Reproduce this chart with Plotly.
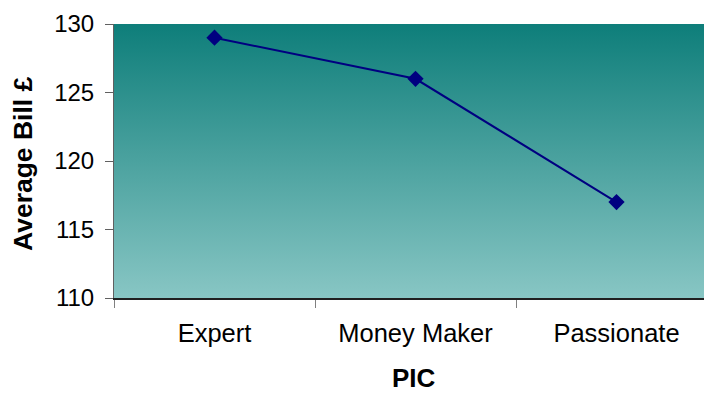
import base64
import plotly.graph_objects as go

categories = ["Expert", "Money Maker", "Passionate"]
values = [129, 126, 117]
y_ticks = [110, 115, 120, 125, 130]

W, H = 704, 394
L, R, T, B = 114, 0, 24, 96
plot_w = W - L - R
plot_h = H - T - B

svg = (
    '<svg xmlns="http://www.w3.org/2000/svg" width="100" height="100" viewBox="0 0 100 100" preserveAspectRatio="none">'
    '<defs><linearGradient id="g" x1="0" y1="0" x2="0" y2="1">'
    '<stop offset="0" stop-color="#0e7e7a"/><stop offset="1" stop-color="#88c6c4"/>'
    '</linearGradient></defs><rect x="0" y="0" width="100" height="100" fill="url(#g)"/></svg>'
)
uri = "data:image/svg+xml;base64," + base64.b64encode(svg.encode()).decode()

fig = go.Figure()
fig.add_trace(go.Scatter(
    x=categories, y=values, mode="lines+markers",
    line=dict(color="#000080", width=2),
    marker=dict(symbol="diamond", size=12.5, color="#000080"),
    showlegend=False,
))

cat_w = 201
x_max = -0.5 + plot_w / cat_w

fig.update_layout(
    width=W, height=H,
    margin=dict(l=L, r=R, t=T, b=B, pad=0),
    paper_bgcolor="white",
    plot_bgcolor="rgba(0,0,0,0)",
    font=dict(family="Liberation Sans, Arial, sans-serif", size=24, color="black"),
    images=[dict(source=uri, xref="paper", yref="paper", x=0, y=1, sizex=1, sizey=1,
                 sizing="stretch", layer="below", xanchor="left", yanchor="top")],
    xaxis=dict(
        type="category", range=[-0.5, x_max], tickson="boundaries",
        ticks="outside", ticklen=8, tickcolor="#808080", tickwidth=1,
        showline=True, linecolor="#202020", linewidth=1.5,
        showgrid=False, zeroline=False, ticklabelstandoff=12,
        tickfont=dict(size=25.5),
    ),
    yaxis=dict(
        range=[110, 130], tickvals=y_ticks,
        ticks="outside", ticklen=8, tickcolor="#606060", tickwidth=1,
        showline=True, linecolor="#606060", linewidth=1,
        showgrid=False, zeroline=False, ticklabelstandoff=6,
        tickfont=dict(size=24),
    ),
    annotations=[
        dict(text="<b>Average Bill £</b>", textangle=-90, xref="paper", yref="paper",
             x=(23 - L) / plot_w, y=((H - B) - 164) / plot_h,
             xanchor="center", yanchor="middle", showarrow=False, font=dict(size=26.5)),
        dict(text="<b>PIC</b>", xref="paper", yref="paper",
             x=(414 - L) / plot_w, y=((H - B) - 394) / plot_h,
             xanchor="center", yanchor="bottom", borderpad=0, showarrow=False,
             font=dict(size=26)),
    ],
)

fig.write_html("out.html")
